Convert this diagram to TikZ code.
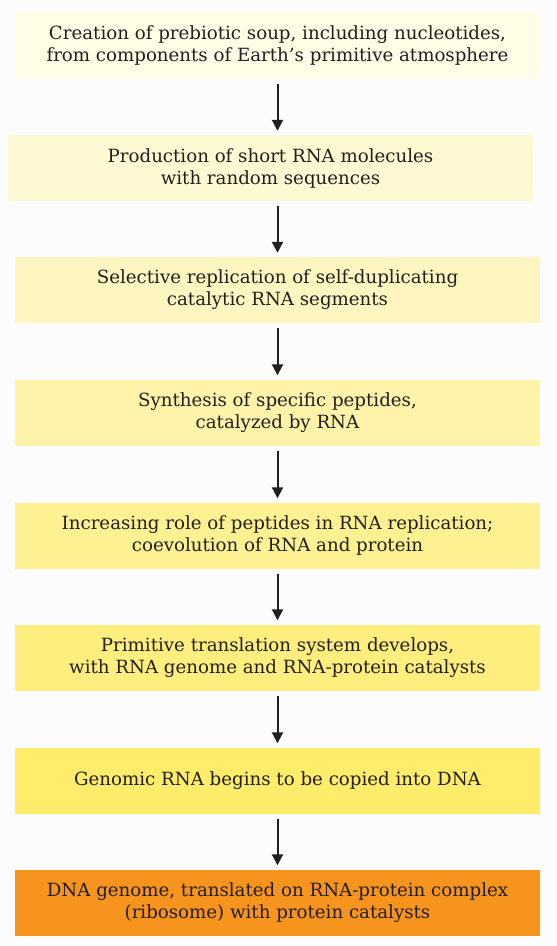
\documentclass[tikz,border=0pt]{standalone}
\usepackage{fontspec}
\setmainfont{DejaVu Serif}
\usetikzlibrary{arrows.meta}
\definecolor{inkc}{HTML}{231F20}
\definecolor{bgc}{HTML}{FCFCFC}
\definecolor{c1}{HTML}{FFFDE6}
\definecolor{c2}{HTML}{FEF9D2}
\definecolor{c3}{HTML}{FEF6C0}
\definecolor{c4}{HTML}{FEF3A8}
\definecolor{c5}{HTML}{FEF192}
\definecolor{c6}{HTML}{FEEE7E}
\definecolor{c7}{HTML}{FEEC6A}
\definecolor{c8}{HTML}{F7941D}
\tikzset{
  stagebox/.style={fill=#1, draw=none, minimum width=525pt, minimum height=66pt,
    inner sep=0pt, align=center, text=inkc,
    font=\fontsize{18.2}{22}\selectfont},
  flowarrow/.style={draw=inkc, line width=2pt,
    -{Triangle[length=11pt,width=11pt]}, shorten <=5pt, shorten >=4pt}
}
\begin{document}
\begin{tikzpicture}[x=1pt,y=-1pt]
\useasboundingbox (0,0) rectangle (557,946);
\fill[bgc] (0,0) rectangle (557,946);
\node[stagebox=c1, minimum height=67pt] (b1) at (277.5,45.5)
  {Creation of prebiotic soup, including nucleotides,\\from components of Earth's primitive atmosphere};
\node[stagebox=c2] (b2) at (270.5,168)
  {Production of short RNA molecules\\with random sequences};
\node[stagebox=c3] (b3) at (277.5,290)
  {Selective replication of self-duplicating\\catalytic RNA segments};
\node[stagebox=c4] (b4) at (277.5,412.5)
  {Synthesis of specific peptides,\\catalyzed by RNA};
\node[stagebox=c5] (b5) at (277.5,535.5)
  {Increasing role of peptides in RNA replication;\\coevolution of RNA and protein};
\node[stagebox=c6] (b6) at (277.5,657.5)
  {Primitive translation system develops,\\with RNA genome and RNA-protein catalysts};
\node[stagebox=c7] (b7) at (277.5,780.5)
  {Genomic RNA begins to be copied into DNA};
\node[stagebox=c8] (b8) at (277.5,902.5)
  {DNA genome, translated on RNA-protein complex\\(ribosome) with protein catalysts};
\draw[flowarrow] (b1.south) -- (b1.south |- b2.north);
\draw[flowarrow] (b1.south |- b2.south) -- (b3.north);
\draw[flowarrow] (b3.south) -- (b4.north);
\draw[flowarrow] (b4.south) -- (b5.north);
\draw[flowarrow] (b5.south) -- (b6.north);
\draw[flowarrow] (b6.south) -- (b7.north);
\draw[flowarrow] (b7.south) -- (b8.north);
\end{tikzpicture}
\end{document}
